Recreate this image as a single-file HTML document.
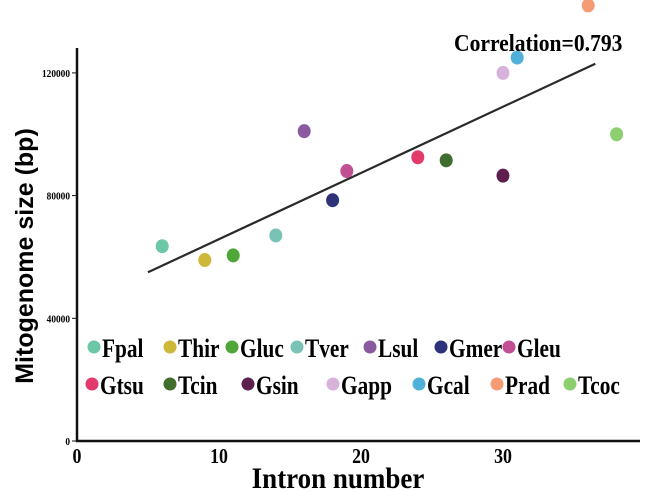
<!DOCTYPE html>
<html><head><meta charset="utf-8"><style>
body{margin:0;background:#fff;width:645px;height:491px;overflow:hidden}
svg{display:block}
.tk{font-family:"Liberation Serif",serif;font-weight:bold;font-size:11px}
.xt{font-family:"Liberation Serif",serif;font-weight:bold;font-size:21px}
.lg{font-family:"Liberation Serif",serif;font-weight:bold;font-size:26px}
</style></head><body>
<svg id="c" width="645" height="491"></svg>
<script>
const names=["Fpal","Thir","Gluc","Tver","Lsul","Gmer","Gleu","Gtsu","Tcin","Gsin","Gapp","Gcal","Prad","Tcoc"];
const introns=[6,9,11,14,16,18,19,24,26,30,30,31,36,38];
const sizes=[63500,59000,60500,67000,101000,78500,88000,92500,91500,86500,120000,125000,142000,100000];
const colors=["#6cc7a6","#cdb83a","#4fa73a","#7ac2b3","#8a5aa0","#2e327a","#c04f93","#e23a6a","#3f6e2f","#5e1f4e","#d7b3dc","#4fb0d8","#f39c76","#8ccf6e"];
const xTicks=[0,10,20,30];
const yTicks=[0,40000,80000,120000];
const fitX=[5,36.5];
const fitY=[55000,123000];
const X=v=>77+v*14.2, Y=v=>441-v*(122.7/40000);
const s=document.getElementById('c'),NS="http://www.w3.org/2000/svg";
function mk(t,a,txt){const e=document.createElementNS(NS,t);for(const k in a)e.setAttribute(k,a[k]);if(txt!=null)e.textContent=txt;s.appendChild(e);return e;}
let e;
e=mk('line',{x1:77,y1:48,x2:77,y2:442,stroke:'#111','stroke-width':2.5});

e=mk('line',{x1:76,y1:441,x2:640,y2:441,stroke:'#111','stroke-width':2.5});

yTicks.forEach(v=>{mk('line',{x1:72,y1:Y(v),x2:77,y2:Y(v),stroke:'#111'});
e=mk('text',{transform:`translate(70,${Y(v)+4}) scale(0.85,1)`,'text-anchor':'end',class:'tk'},v);
});
xTicks.forEach(v=>{e=mk('text',{transform:`translate(${X(v)},463) scale(0.85,1)`,'text-anchor':'middle',class:'xt'},v);
});
e=mk('line',{x1:X(fitX[0]),y1:Y(fitY[0]),x2:X(fitX[1]),y2:Y(fitY[1]),stroke:'#2a2a2a','stroke-width':2.2});

names.forEach((n,i)=>{e=mk('ellipse',{cx:X(introns[i]),cy:Y(sizes[i]),rx:6.5,ry:7,fill:colors[i]});
});
e=mk('text',{transform:'translate(454,51) scale(0.9,1)',style:'font-family:"Liberation Serif",serif;font-weight:bold;font-size:24px'},'Correlation=0.793');

e=mk('text',{transform:'translate(338,488) scale(0.9,1)','text-anchor':'middle',style:'font-family:"Liberation Serif",serif;font-weight:bold;font-size:30px'},'Intron number');

e=mk('text',{x:0,y:0,transform:'translate(33,256) rotate(-90)','text-anchor':'middle',style:'font-family:"Liberation Sans",sans-serif;font-weight:bold;font-size:25px'},'Mitogenome size (bp)');

const lx=[94,170,232,297,370,441,509,92,170,248,333,419,497,570];
names.forEach((n,i)=>{const yy=i<7?348:385;
e=mk('circle',{cx:lx[i],cy:yy-1,r:6.5,fill:colors[i]});

e=mk('text',{transform:`translate(${lx[i]+8},${yy+9}) scale(0.82,1)`,class:'lg'},n);
});
</script>
</body></html>
